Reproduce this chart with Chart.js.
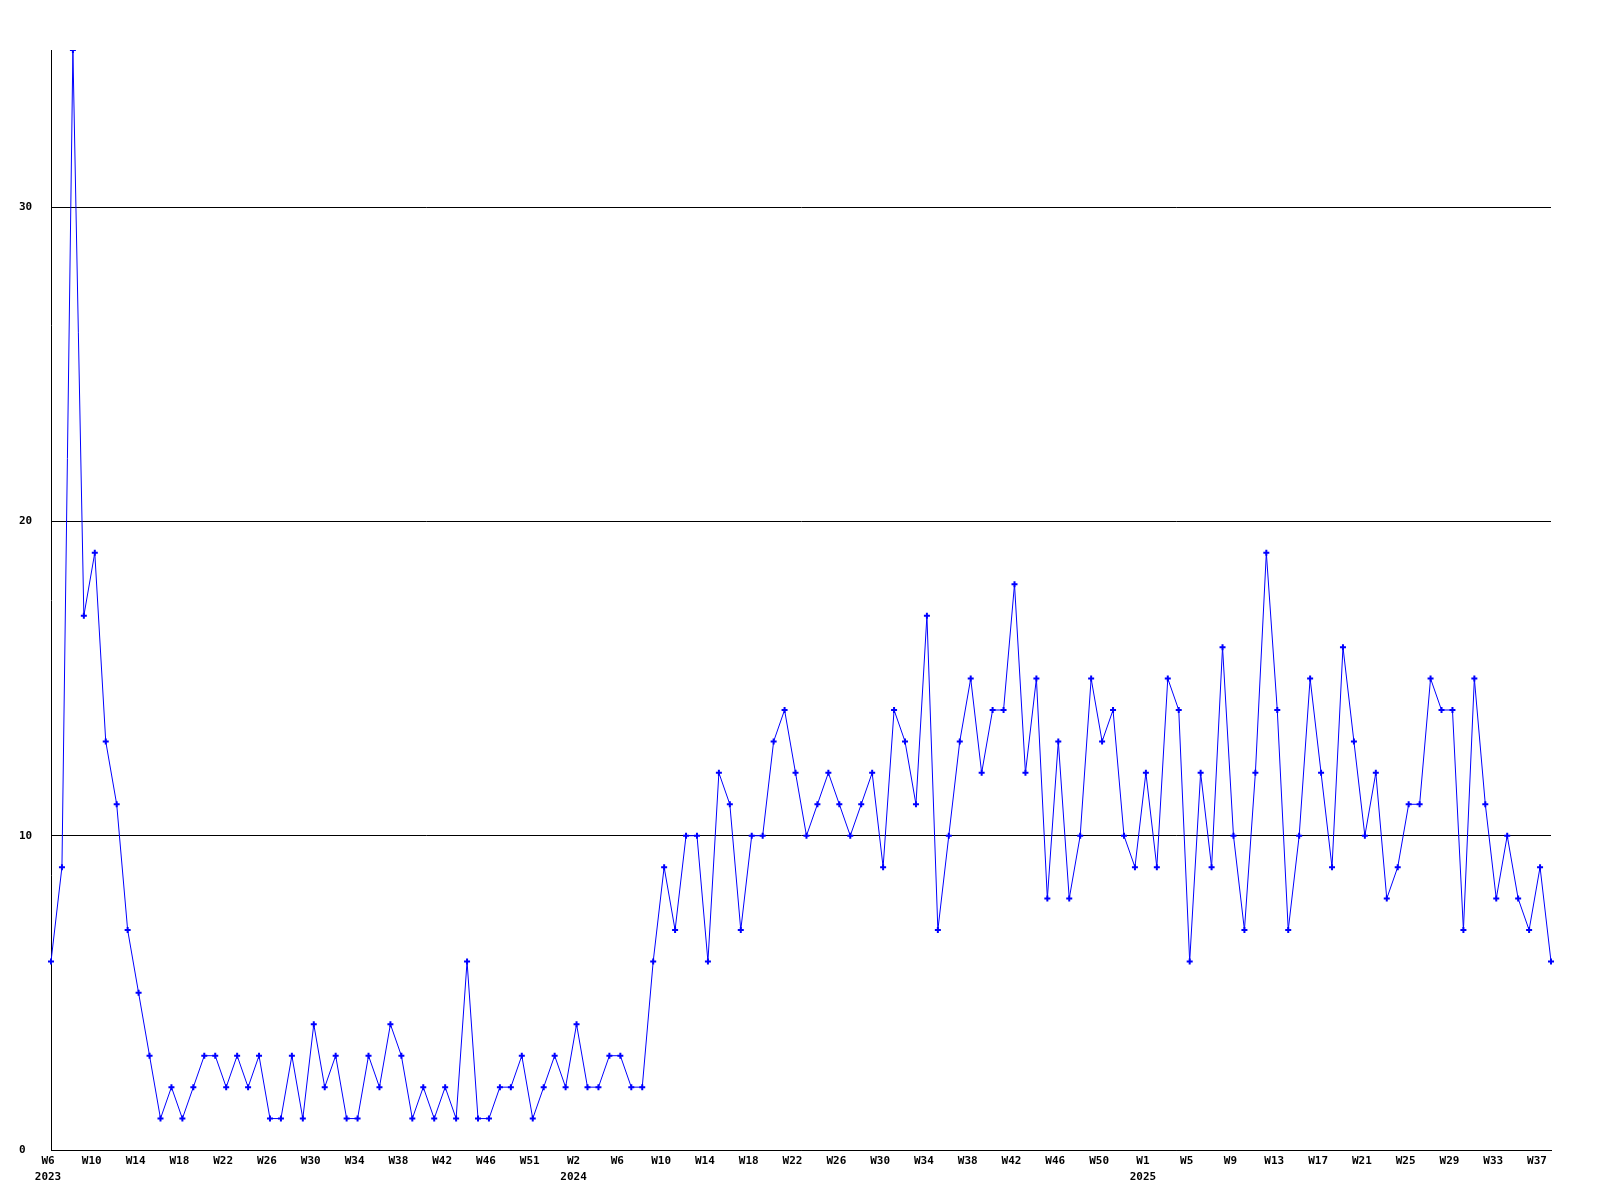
<!DOCTYPE html>
<html>
<head>
<meta charset="utf-8">
<title>Weekly count</title>
<script src="https://cdn.jsdelivr.net/npm/chart.js@4.4.1/dist/chart.umd.min.js"></script>
<style>
    html, body { margin: 0; padding: 0; background: #ffffff; }
    #weeklyChart { display: block; }
</style>
</head>
<body>
<canvas id="weeklyChart" width="1600" height="1200"></canvas>
<script>
// One value per week, 2023 W6 -> 2025 W38
const weeklyCounts = [
    6, 9, 35, 17, 19, 13, 11, 7, 5, 3, 1, 2, 1, 2, 3, 3, 2, 3, 2, 3, 1, 1, 3, 1,
    4, 2, 3, 1, 1, 3, 2, 4, 3, 1, 2, 1, 2, 1, 6, 1, 1, 2, 2, 3, 1, 2, 3, 2, 4, 2, 2, 3, 3, 2, 2, 6,
    9, 7, 10, 10, 6, 12, 11, 7, 10, 10, 13, 14, 12, 10, 11, 12, 11, 10, 11, 12,
    9, 14, 13, 11, 17, 7, 10, 13, 15, 12, 14, 14, 18, 12, 15, 8, 13, 8, 10, 15, 13, 14,
    10, 9, 12, 9, 15, 14, 6, 12, 9, 16, 10, 7, 12, 19, 14, 7, 10, 15, 12, 9, 16, 13,
    10, 12, 8, 9, 11, 11, 15, 14, 14, 7, 15, 11, 8, 10, 8, 7, 9, 6
];

// Labels shown every 4th week
const weekTickLabels = [
    'W6', 'W10', 'W14', 'W18', 'W22', 'W26', 'W30', 'W34', 'W38', 'W42', 'W46', 'W51',
    'W2', 'W6', 'W10', 'W14', 'W18', 'W22', 'W26', 'W30', 'W34', 'W38', 'W42', 'W46', 'W50',
    'W1', 'W5', 'W9', 'W13', 'W17', 'W21', 'W25', 'W29', 'W33', 'W37'
];
const yearLabels = ['2023', '2024', '2025'];
const yearTickPositions = [0, 12, 25]; // index in weekTickLabels where a year starts

const yTickValues = [0, 10, 20, 30];
const yMax = 35;
const tickEvery = 4;

class WeeklyChart {
    constructor(canvasId) {
        this.canvas = document.getElementById(canvasId);
        this.font = { family: '"DejaVu Sans Mono", "Liberation Mono", monospace', size: 11, weight: 'bold', lineHeight: 1.45 };
        this.init();
    }

    init() {
        this.chart = new Chart(this.canvas, {
            type: 'line',
            data: {
                labels: weeklyCounts.map((_, i) => i),
                datasets: [{
                    data: weeklyCounts,
                    borderColor: '#0000ff',
                    backgroundColor: '#0000ff',
                    borderWidth: 1,
                    tension: 0,
                    fill: false,
                    pointStyle: 'cross',
                    pointRadius: 3,
                    pointBorderWidth: 2,
                    pointBorderColor: '#0000ff',
                    pointHoverRadius: 3
                }]
            },
            options: {
                responsive: false,
                animation: false,
                events: [],
                layout: { padding: { top: 50, right: 49, left: 19, bottom: 0 } },
                plugins: {
                    legend: { display: false },
                    tooltip: { enabled: false },
                    title: { display: false }
                },
                scales: {
                    x: {
                        type: 'category',
                        offset: false,
                        grid: { display: false, drawTicks: false },
                        border: { display: true, color: '#000000', width: 1 },
                        afterFit: (scale) => { scale.height = 50; },
                        ticks: {
                            autoSkip: false,
                            maxRotation: 0,
                            minRotation: 0,
                            padding: 3,
                            labelOffset: -3,
                            color: '#000000',
                            font: this.font,
                            callback: (value, index) => this.xLabel(index)
                        }
                    },
                    y: {
                        min: 0,
                        max: yMax,
                        afterFit: (scale) => { scale.width = 32; },
                        afterBuildTicks: (scale) => {
                            scale.ticks = yTickValues.map(v => ({ value: v }));
                        },
                        grid: { color: '#000000', lineWidth: 1, drawTicks: false },
                        border: { display: true, color: '#000000', width: 1 },
                        ticks: {
                            crossAlign: 'far',
                            padding: 0,
                            color: '#000000',
                            font: this.font
                        }
                    }
                }
            }
        });
    }

    xLabel(index) {
        if (index % tickEvery !== 0) return '';
        const pos = index / tickEvery;
        const week = weekTickLabels[pos];
        if (week === undefined) return '';
        const yearIdx = yearTickPositions.indexOf(pos);
        return yearIdx >= 0 ? [week, yearLabels[yearIdx]] : week;
    }
}

new WeeklyChart('weeklyChart');
</script>
</body>
</html>
